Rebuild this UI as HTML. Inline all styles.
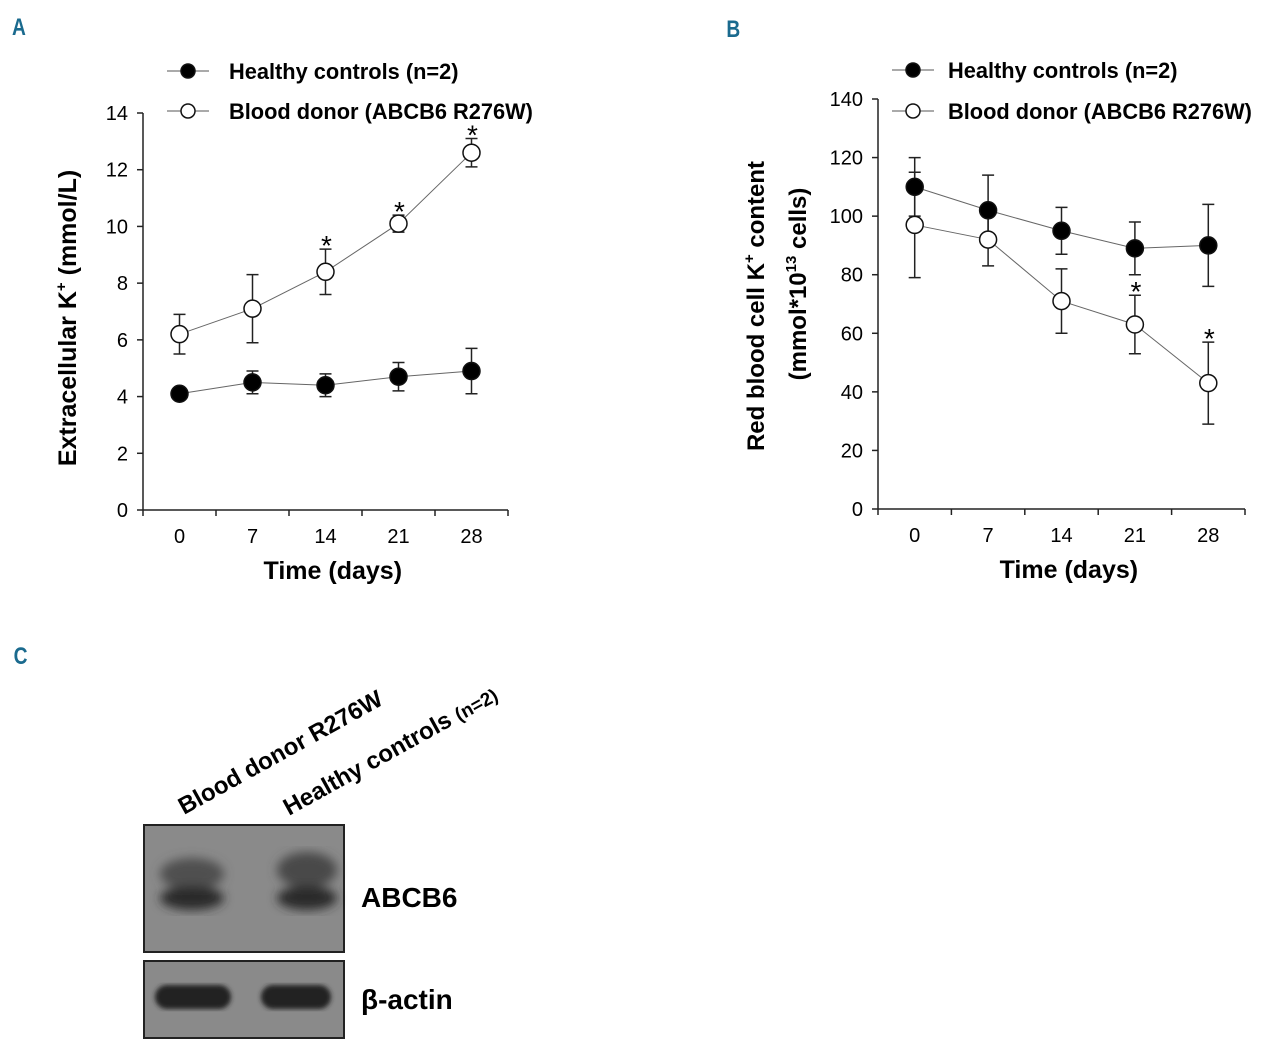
<!DOCTYPE html>
<html><head><meta charset="utf-8"><style>
body{margin:0;background:#fff;width:1280px;height:1054px;overflow:hidden}
svg text{font-family:"Liberation Sans",sans-serif}
</style></head><body>
<svg width="1280" height="1054" viewBox="0 0 1280 1054">
<defs>
<filter id="blur4"><feGaussianBlur stdDeviation="5"/></filter>
<filter id="blur2"><feGaussianBlur stdDeviation="2.5"/></filter>
</defs>
<text x="12" y="35" font-size="24" font-weight="bold" fill="#1a6a8e" transform="scale(0.8,1) translate(3,0)">A</text>
<text x="908" y="37" font-size="24" font-weight="bold" fill="#1a6a8e" transform="scale(0.8,1)">B</text>
<text x="14" y="664" font-size="24" font-weight="bold" fill="#1a6a8e" transform="scale(0.8,1) translate(3,0)">C</text>
<g id="chartA"></g>
<g id="chartB"></g>
<g>
<text transform="translate(184,815) rotate(-29)" font-size="24" font-weight="bold">Blood donor R276W</text>
<text transform="translate(289,816) rotate(-29)" font-size="24" font-weight="bold">Healthy controls <tspan font-size="19">(n=2)</tspan></text>
<rect x="144" y="825" width="200" height="127" fill="#8a8a8a" stroke="#222" stroke-width="2"/>
<g filter="url(#blur4)">
<ellipse cx="192" cy="874" rx="32" ry="16" fill="#505050"/>
<ellipse cx="192" cy="898" rx="32" ry="12" fill="#2c2c2c"/>
<ellipse cx="307" cy="870" rx="30" ry="18" fill="#4a4a4a"/>
<ellipse cx="307" cy="898" rx="30" ry="12" fill="#2c2c2c"/>
</g>
<text x="361" y="907" font-size="28" font-weight="bold">ABCB6</text>
<rect x="144" y="961" width="200" height="77" fill="#8a8a8a" stroke="#222" stroke-width="2"/>
<g filter="url(#blur2)">
<rect x="155" y="985" width="76" height="24" rx="12" fill="#222"/>
<rect x="261" y="985" width="70" height="24" rx="12" fill="#222"/>
</g>
<text x="361" y="1009" font-size="28" font-weight="bold">β-actin</text>
</g>
</svg>
<script>
const categories=["0","7","14","21","28"];
const aHealthy=[4.1,4.5,4.4,4.7,4.9];
const aHealthyErr=[0.2,0.4,0.4,0.5,0.8];
const aDonor=[6.2,7.1,8.4,10.1,12.6];
const aDonorErr=[0.7,1.2,0.8,0.3,0.5];
const aStars=[false,false,true,true,true];
const aTicks=[0,2,4,6,8,10,12,14];
const bHealthy=[110,102,95,89,90];
const bHealthyErr=[10,12,8,9,14];
const bDonor=[97,92,71,63,43];
const bDonorErr=[18,9,11,10,14];
const bStars=[false,false,false,true,true];
const bTicks=[0,20,40,60,80,100,120,140];
const NS="http://www.w3.org/2000/svg";
function mk(p,t,a){const e=document.createElementNS(NS,t);for(const k in a)e.setAttribute(k,a[k]);p.appendChild(e);return e;}
function draw(g,cfg){
  const x=i=>cfg.x0+cfg.step*(i+0.5);
  const y=v=>cfg.y0-(v-cfg.ymin)/(cfg.ymax-cfg.ymin)*(cfg.y0-cfg.y1);
  const ax=mk(g,'line',{x1:cfg.x0,y1:cfg.y1,x2:cfg.x0,y2:cfg.y0,stroke:'#222','stroke-width':1.5});
  
  const xa=mk(g,'line',{x1:cfg.x0,y1:cfg.y0,x2:cfg.x0+cfg.step*categories.length,y2:cfg.y0,stroke:'#222','stroke-width':1.5});
  
  cfg.ticks.forEach(t=>{
    mk(g,'line',{x1:cfg.x0-6,x2:cfg.x0,y1:y(t),y2:y(t),stroke:'#222','stroke-width':1.5});
    const tx=mk(g,'text',{x:cfg.x0-15,y:y(t)+7,'font-size':20,'text-anchor':'end'});tx.textContent=t;
    
  });
  for(let i=0;i<=categories.length;i++) mk(g,'line',{x1:cfg.x0+cfg.step*i,x2:cfg.x0+cfg.step*i,y1:cfg.y0,y2:cfg.y0+6,stroke:'#222','stroke-width':1.5});
  categories.forEach((c,i)=>{const t=mk(g,'text',{x:x(i),y:cfg.y0+33,'font-size':20,'text-anchor':'middle'});t.textContent=c;
    });
  const xt=mk(g,'text',{x:cfg.x0+cfg.step*2.6,y:cfg.y0+69,'font-size':25,'font-weight':'bold','text-anchor':'middle'});xt.textContent='Time (days)';
  
  [[cfg.h,cfg.he,'#000','healthy'],[cfg.d,cfg.de,'#fff','donor']].forEach(([vals,errs,fill,nm])=>{
    const pl=mk(g,'polyline',{points:vals.map((v,i)=>x(i)+','+y(v)).join(' '),fill:'none',stroke:'#666','stroke-width':1});
    
    vals.forEach((v,i)=>{
      const e=mk(g,'path',{d:`M${x(i)},${y(v-errs[i])}V${y(v+errs[i])}M${x(i)-6},${y(v-errs[i])}h12M${x(i)-6},${y(v+errs[i])}h12`,stroke:'#222','stroke-width':1.5,fill:'none'});
      
    });
  });
  [[cfg.h,'#000','healthy'],[cfg.d,'#fff','donor']].forEach(([vals,fill,nm])=>vals.forEach((v,i)=>{
    const c=mk(g,'circle',{cx:x(i),cy:y(v),r:8.5,fill:fill,stroke:'#111','stroke-width':1.5});
    
  }));
  cfg.stars.forEach((s,i)=>{if(!s)return;const t=mk(g,'text',{x:x(i)+1,y:y(cfg.d[i]+cfg.de[i])+6,'font-size':28,'text-anchor':'middle'});t.textContent='*';
    });
  const L=cfg.leg;
  [[L.y1,'#000','Healthy controls (n=2)','legend-healthy'],[L.y2,'#fff','Blood donor (ABCB6 R276W)','legend-donor']].forEach(([ly,f,txt,nm])=>{
    const lg=mk(g,'g',{});
    mk(lg,'line',{x1:L.x,x2:L.x+42,y1:ly,y2:ly,stroke:'#555','stroke-width':1});
    mk(lg,'circle',{cx:L.x+21,cy:ly,r:7,fill:f,stroke:'#111','stroke-width':1.5});
    const t=mk(lg,'text',{x:L.x+L.tx,y:ly+8,'font-size':21.8,'font-weight':'bold'});t.textContent=txt;
  });
}
const gA=document.getElementById('chartA'),gB=document.getElementById('chartB');
draw(gA,{x0:143,step:73,y0:510,y1:113,ymin:0,ymax:14,ticks:aTicks,h:aHealthy,he:aHealthyErr,d:aDonor,de:aDonorErr,stars:aStars,leg:{x:167,tx:62,y1:71,y2:111}});
draw(gB,{x0:878,step:73.4,y0:509,y1:99,ymin:0,ymax:140,ticks:bTicks,h:bHealthy,he:bHealthyErr,d:bDonor,de:bDonorErr,stars:bStars,leg:{x:892,tx:56,y1:70,y2:111}});
const ya=mk(gA,'text',{transform:'translate(76,318) rotate(-90)','font-size':25,'font-weight':'bold','text-anchor':'middle'});
ya.innerHTML='Extracellular  K<tspan font-size="15" dy="-10">+</tspan><tspan dy="10">  (mmol/L)</tspan>';

const yb=mk(gB,'text',{transform:'translate(764,306) rotate(-90)','font-size':24,'font-weight':'bold','text-anchor':'middle'});
yb.innerHTML='Red blood cell  K<tspan font-size="15" dy="-10">+</tspan><tspan dy="10"> content</tspan>';

const yb2=mk(gB,'text',{transform:'translate(806,284) rotate(-90)','font-size':24,'font-weight':'bold','text-anchor':'middle'});
yb2.innerHTML='(mmol*10<tspan font-size="15" dy="-10">13</tspan><tspan dy="10"> cells)</tspan>';

</script>
</body></html>
